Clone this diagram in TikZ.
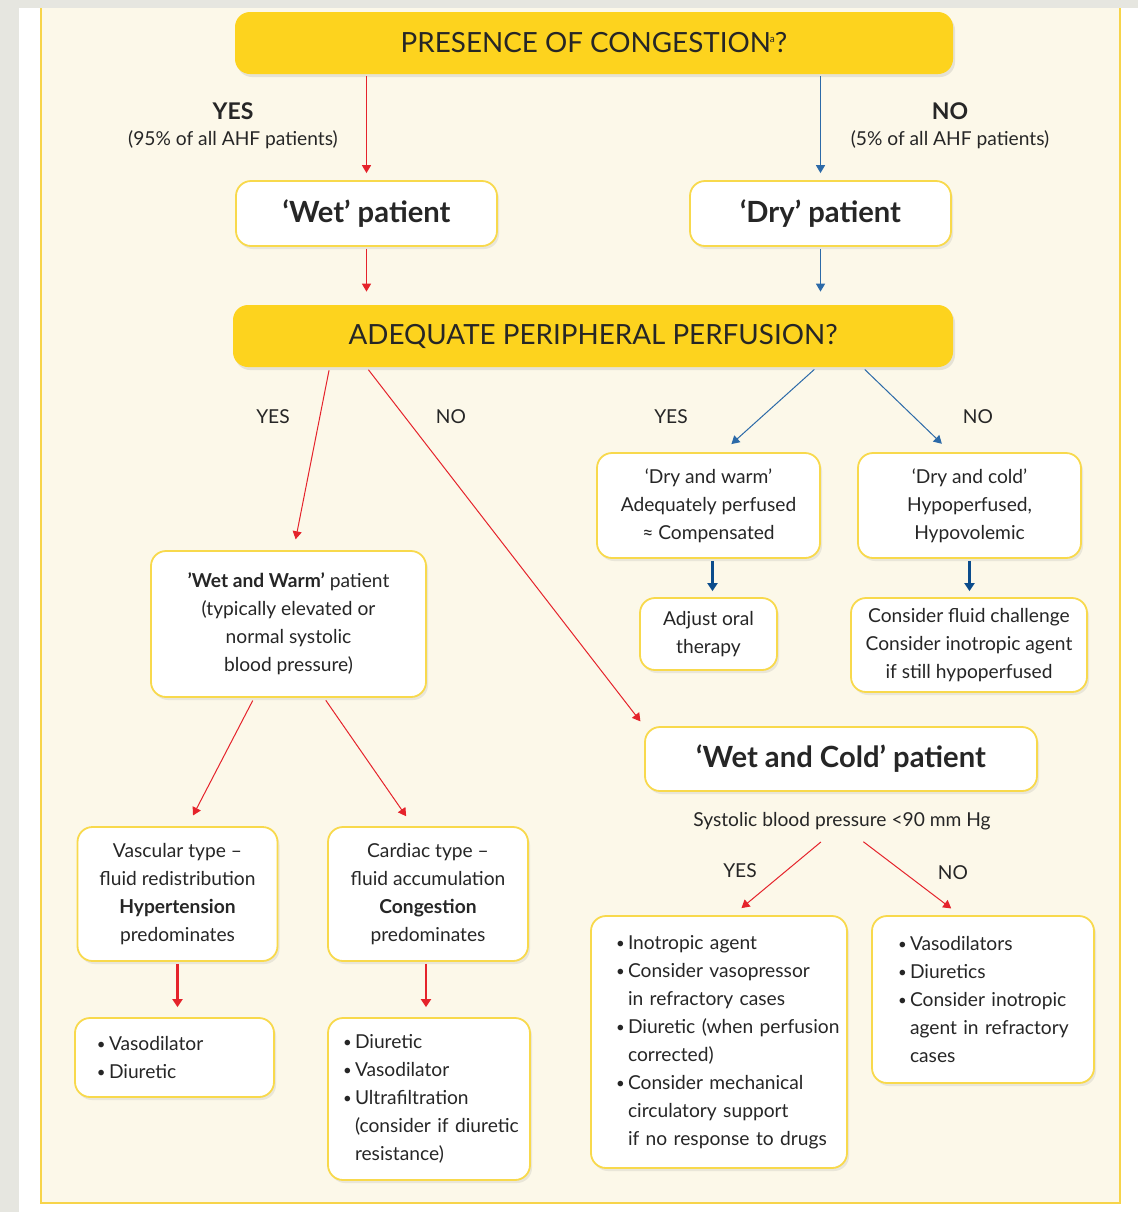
\documentclass[tikz,border=0pt]{standalone}
\usepackage{fontspec}
\setmainfont{Lato}
\usetikzlibrary{arrows.meta,positioning,calc,shadows}

\definecolor{qyellow}{HTML}{FDD31E}
\definecolor{boxline}{HTML}{F8D94C}
\definecolor{panel}{HTML}{FCF8E9}
\definecolor{frameline}{HTML}{F7D44A}
\definecolor{pagegray}{HTML}{E6E6E0}
\definecolor{arrred}{HTML}{E5232B}
\definecolor{arrblue}{HTML}{2C6AA8}
\definecolor{darkblue}{HTML}{0B4C8C}
\definecolor{inkgray}{HTML}{262626}

\newcommand\titlefont{\fontsize{13.9}{17}\selectfont}
\newcommand\headfont{\fontsize{14.6}{17}\selectfont\bfseries}
\newcommand\bodyfont{\fontsize{9.6}{14}\selectfont}
\newcommand\bitem[1]{\mbox{\makebox[6pt][l]{\raisebox{0.6pt}{\fontsize{7.5}{8}\selectfont\textbullet}}#1}}
\newcommand\bcont[1]{\mbox{\hspace*{6pt}#1}}

\begin{document}
\begin{tikzpicture}[x=0.5pt,y=-0.5pt]
\tikzset{
  qbox/.style={rounded corners=7.5pt,fill=qyellow,inner sep=0pt,text=inkgray,font=\titlefont,
    drop shadow={shadow xshift=1pt,shadow yshift=-1.5pt,opacity=0.18}},
  pbox/.style={rounded corners=7.5pt,fill=white,draw=boxline,line width=0.9pt,inner sep=0pt,
    align=center,text=inkgray,font=\bodyfont,
    drop shadow={shadow xshift=1pt,shadow yshift=-1.5pt,opacity=0.15}},
  listbox/.style={pbox,align=left},
  lab/.style={text=inkgray,font=\bodyfont},
  redline/.style={draw=arrred,line width=0.5pt,-{Triangle[length=4pt,width=4.5pt]}},
  blueline/.style={draw=arrblue,line width=0.5pt,-{Triangle[length=4pt,width=4.5pt]}},
  redthick/.style={draw=arrred,line width=1.2pt,-{Triangle[length=4pt,width=5pt]}},
  bluethick/.style={draw=darkblue,line width=1.2pt,-{Triangle[length=4pt,width=5pt]}}
}
\useasboundingbox (0,0) rectangle (1138,1212);
% page and panel
\fill[white] (0,0) rectangle (1138,1212);
\fill[pagegray] (0,0) rectangle (1138,8);
\fill[pagegray] (0,0) rectangle (19,1212);
\fill[panel] (41,8) rectangle (1120,1203);
\draw[frameline,line width=1pt] (41,8) -- (41,1203) -- (1120,1203) -- (1120,8);

% questions
\node[qbox,minimum width=359pt,minimum height=31pt] (n_cong) at (594,43)
  {PRESENCE OF CONGESTION\kern-0.5pt\textsuperscript{\tiny a}\kern-0.5pt?};
\node[qbox,minimum width=360pt,minimum height=31pt] (n_perf) at (593,336)
  {ADEQUATE PERIPHERAL PERFUSION?};

% wet / dry
\node[pbox,font=\headfont,minimum width=130.5pt,minimum height=32.5pt] (n_wet) at (366.5,213.5) {‘Wet’ patient};
\node[pbox,font=\headfont,minimum width=130.5pt,minimum height=32.5pt] (n_dry) at (820.5,213.5) {‘Dry’ patient};

\node[lab,font=\fontsize{11.5}{14}\selectfont\bfseries] (l_yes1) at (233,111) {YES};
\node[lab] (l_yes1n) at (233,140) {(95\% of all AHF patients)};
\node[lab,font=\fontsize{11.5}{14}\selectfont\bfseries] (l_no1) at (950,111) {NO};
\node[lab] (l_no1n) at (950,140) {(5\% of all AHF patients)};

% second level
\node[pbox,minimum width=137.5pt,minimum height=73pt] (n_wetwarm) at (288.5,624)
  {\textbf{’Wet and Warm’} patient\\(typically elevated or\\normal systolic\\blood pressure)};
\node[pbox,minimum width=111.5pt,minimum height=52.5pt] (n_drywarm) at (708.5,505.5)
  {‘Dry and warm’\\Adequately perfused\\≈ Compensated};
\node[pbox,minimum width=111.5pt,minimum height=52.5pt] (n_drycold) at (969.5,505.5)
  {‘Dry and cold’\\Hypoperfused,\\Hypovolemic};
\node[pbox,minimum width=68.5pt,minimum height=36pt] (n_adjust) at (708.5,634)
  {Adjust oral\\therapy};
\node[pbox,minimum width=118pt,minimum height=47pt] (n_fluid) at (969,645)
  {Consider fluid challenge\\Consider inotropic agent\\if still hypoperfused};
\node[pbox,font=\headfont,minimum width=196pt,minimum height=32pt] (n_wetcold) at (841,759)
  {‘Wet and Cold’ patient};
\node[lab] (n_sbp) at (842,821) {Systolic blood pressure <90 mm Hg};

\node[lab] (l_yes2) at (273,417) {YES};
\node[lab] (l_no2) at (451,417) {NO};
\node[lab] (l_yes3) at (671,417) {YES};
\node[lab] (l_no3) at (978,417) {NO};
\node[lab] (l_yes4) at (740,871) {YES};
\node[lab] (l_no4) at (953,873) {NO};

% wet and warm subtypes
\node[pbox,minimum width=100pt,minimum height=67pt] (n_vasc) at (177.5,894)
  {Vascular type –\\fluid redistribution\\\textbf{Hypertension}\\predominates};
\node[pbox,minimum width=100pt,minimum height=67pt] (n_card) at (428,894)
  {Cardiac type –\\fluid accumulation\\\textbf{Congestion}\\predominates};

% treatment lists
\node[listbox,inner xsep=11pt,text width=77.5pt,minimum height=39.5pt] (n_vascrx) at (174.5,1057.5)
  {\bitem{Vasodilator}\\\bitem{Diuretic}};
\node[listbox,inner xsep=7.5pt,text width=86pt,minimum height=81pt] (n_cardrx) at (429,1099)
  {\bitem{Diuretic}\\\bitem{Vasodilator}\\\bitem{Ultrafiltration}\\\bcont{(consider if diuretic}\\\bcont{resistance)}};
\node[listbox,inner xsep=12.5pt,text width=103pt,minimum height=126pt] (n_coldyes) at (719,1042)
  {\bitem{Inotropic agent}\\\bitem{Consider vasopressor}\\\bcont{in refractory cases}\\
   \bitem{Diuretic (when perfusion}\\\bcont{corrected)}\\\bitem{Consider mechanical}\\
   \bcont{circulatory support}\\\bcont{if no response to drugs}};
\node[listbox,inner xsep=13pt,text width=85pt,minimum height=83.5pt] (n_coldno) at (983,999.5)
  {\bitem{Vasodilators}\\\bitem{Diuretics}\\\bitem{Consider inotropic}\\\bcont{agent in refractory}\\\bcont{cases}};

% connectors
\draw[redline,line width=0.8pt,shorten >=3.5pt,shorten <=1pt] (n_wet.north |- n_cong.south) -- (n_wet.north);
\draw[blueline,line width=0.8pt,shorten >=3.5pt,shorten <=1pt] (n_dry.north |- n_cong.south) -- (n_dry.north);
\draw[redline,line width=0.8pt,shorten >=6.5pt,shorten <=1pt] (n_wet.south) -- (n_wet.south |- n_perf.north);
\draw[blueline,line width=0.8pt,shorten >=6.5pt,shorten <=1pt] (n_dry.south) -- (n_dry.south |- n_perf.north);

\draw[redline,shorten >=5.5pt,shorten <=1.5pt] ($(n_perf.south west)+(97,0)$) -- ($(n_wetwarm.north)+(5,0)$);
\draw[redline,shorten >=3pt,shorten <=1.5pt] ($(n_perf.south west)+(134,0)$) -- (n_wetcold.north west);
\draw[blueline,shorten >=6pt,shorten <=1.5pt] ($(n_perf.south west)+(584,0)$) -- ($(n_drywarm.north)+(14,0)$);
\draw[blueline,shorten >=6pt,shorten <=1.5pt] ($(n_perf.south west)+(630,0)$) -- ($(n_drycold.north)+(-19,0)$);

\draw[bluethick,shorten >=3pt,shorten <=1pt] ($(n_drywarm.south)+(4,0)$) -- ($(n_adjust.north)+(4,0)$);
\draw[bluethick,shorten >=3pt,shorten <=1pt] (n_drycold.south) -- (n_drycold.south |- n_fluid.north);

\draw[redline,shorten >=6pt,shorten <=1.5pt] ($(n_wetwarm.south west)+(104,0)$) -- ($(n_vasc.north)+(10,0)$);
\draw[redline,shorten >=6pt,shorten <=1.5pt] ($(n_wetwarm.south west)+(174,0)$) -- ($(n_card.north)+(-15,0)$);

\draw[redthick,shorten >=5pt,shorten <=1pt] (n_vasc.south) -- (n_vasc.south |- n_vascrx.north);
\draw[redthick,shorten >=5pt,shorten <=1pt] ($(n_card.south)+(-2,0)$) -- ($(n_card.south |- n_cardrx.north)+(-2,0)$);

\draw[redline,shorten >=5.5pt,shorten <=4pt] ($(n_sbp.south)+(-15,0)$) -- ($(n_coldyes.north)+(14,0)$);
\draw[redline,shorten >=5.5pt,shorten <=4pt] ($(n_sbp.south)+(15,0)$) -- ($(n_coldno.north)+(-23,0)$);
\end{tikzpicture}
\end{document}
